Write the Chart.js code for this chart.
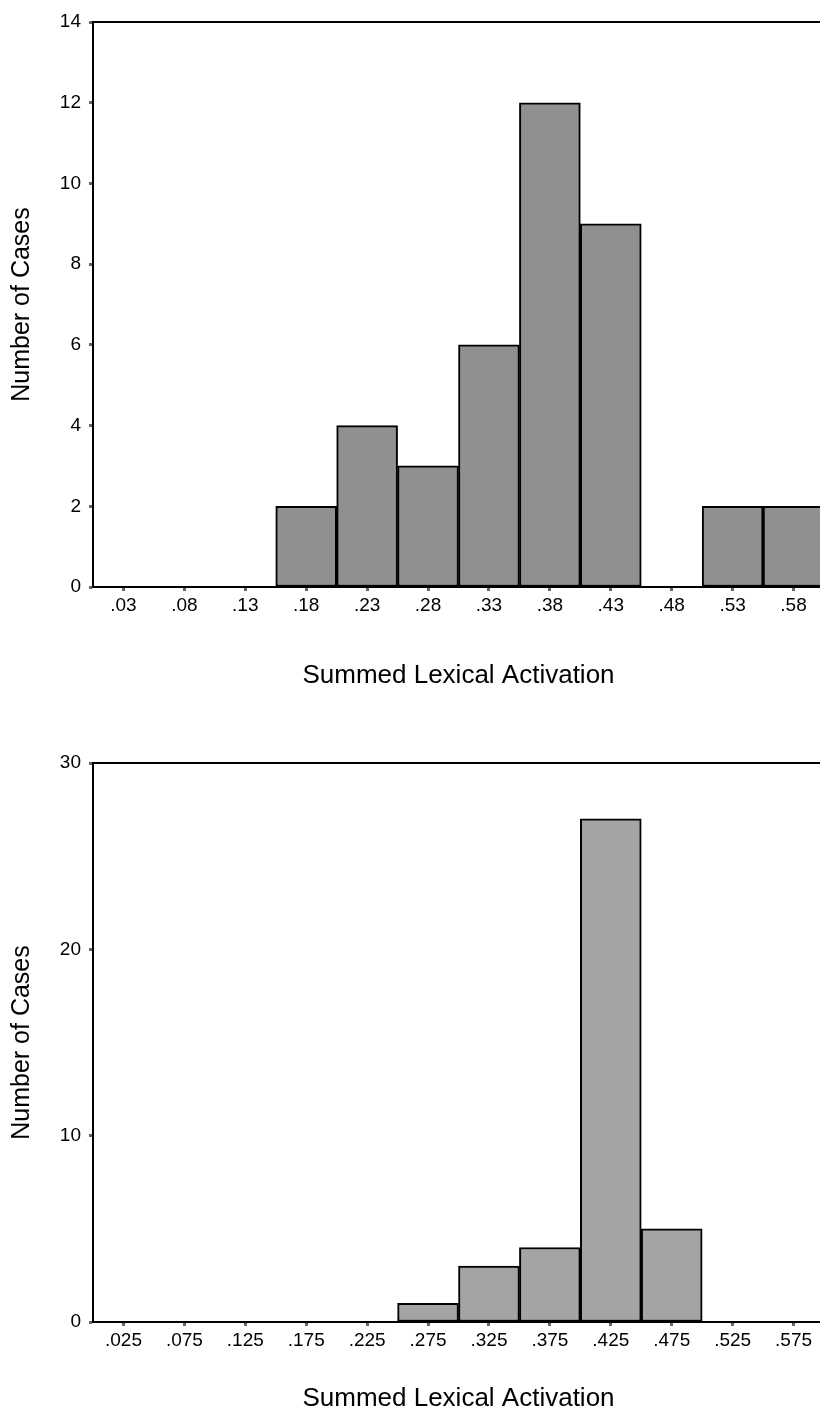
<!DOCTYPE html>
<html>
<head>
<meta charset="utf-8">
<script src="https://cdn.jsdelivr.net/npm/chart.js@4.4.0/dist/chart.umd.min.js"></script>
<style>
  html, body { margin: 0; padding: 0; background: #fff; overflow: hidden; width: 820px; height: 1418px; }
  .panel { width: 824px; height: 709px; }
</style>
</head>
<body>
<div class="panel"><canvas id="topChart" width="824" height="709"></canvas></div>
<div class="panel"><canvas id="bottomChart" width="824" height="709"></canvas></div>
<script>
// bin labels and counts
const topBins = ['.03', '.08', '.13', '.18', '.23', '.28', '.33', '.38', '.43', '.48', '.53', '.58'];
const topCounts = [0, 0, 0, 2, 4, 3, 6, 12, 9, 0, 2, 2];
const topYMax = 14;
const topYStep = 2;

const bottomBins = ['.025', '.075', '.125', '.175', '.225', '.275', '.325', '.375', '.425', '.475', '.525', '.575'];
const bottomCounts = [0, 0, 0, 0, 0, 1, 3, 4, 27, 5, 0, 0];
const bottomYMax = 30;
const bottomYStep = 10;

const xTitle = 'Summed Lexical Activation';
const yTitle = 'Number of Cases';

const FONT = "'Liberation Sans', Arial, sans-serif";

// top frame line of the plot box
const topFrame = {
    id: 'topFrame',
    afterDraw(chart) {
        const { ctx, chartArea } = chart;
        ctx.save();
        ctx.strokeStyle = '#000';
        ctx.lineWidth = 2;
        ctx.beginPath();
        ctx.moveTo(chartArea.left - 1, chartArea.top);
        ctx.lineTo(chartArea.right, chartArea.top);
        ctx.stroke();
        ctx.restore();
    }
};

function makeHistogram(canvasId, bins, counts, yMax, yStep, fill, padTop, xHeight, titlePad) {
    return new Chart(document.getElementById(canvasId), {
        type: 'bar',
        data: {
            labels: bins,
            datasets: [{
                data: counts,
                backgroundColor: fill,
                borderColor: '#000',
                borderWidth: 2,
                borderSkipped: false,
                barPercentage: 1,
                categoryPercentage: 1
            }]
        },
        options: {
            responsive: false,
            animation: false,
            devicePixelRatio: 1,
            layout: { padding: { top: padTop, left: 0, right: 0, bottom: 0 } },
            plugins: { legend: { display: false }, tooltip: { enabled: false } },
            scales: {
                x: {
                    grid: { offset: false, drawOnChartArea: false, drawTicks: true, tickLength: 4, tickWidth: 3, tickColor: '#666' },
                    border: { display: true, color: '#000', width: 2 },
                    ticks: { color: '#000', font: { family: FONT, size: 19 }, padding: 3, autoSkip: false, maxRotation: 0 },
                    title: { display: true, text: xTitle, color: '#000', font: { family: FONT, size: 26 }, padding: { top: 0, bottom: titlePad } },
                    afterFit: (scale) => { scale.height = xHeight; }
                },
                y: {
                    min: 0,
                    max: yMax,
                    grid: { drawOnChartArea: false, drawTicks: true, tickLength: 4, tickWidth: 3, tickColor: '#666' },
                    border: { display: true, color: '#000', width: 2 },
                    ticks: { stepSize: yStep, color: '#000', font: { family: FONT, size: 19 }, padding: 8 },
                    title: { display: true, text: yTitle, color: '#000', font: { family: FONT, size: 25 }, padding: { top: 7, bottom: 0 } },
                    afterFit: (scale) => { scale.width = 93; }
                }
            }
        },
        plugins: [topFrame]
    });
}

makeHistogram('topChart', topBins, topCounts, topYMax, topYStep, '#909090', 22, 122, 18);
makeHistogram('bottomChart', bottomBins, bottomCounts, bottomYMax, bottomYStep, '#a4a4a4', 54, 96, 4);
</script>
</body>
</html>
